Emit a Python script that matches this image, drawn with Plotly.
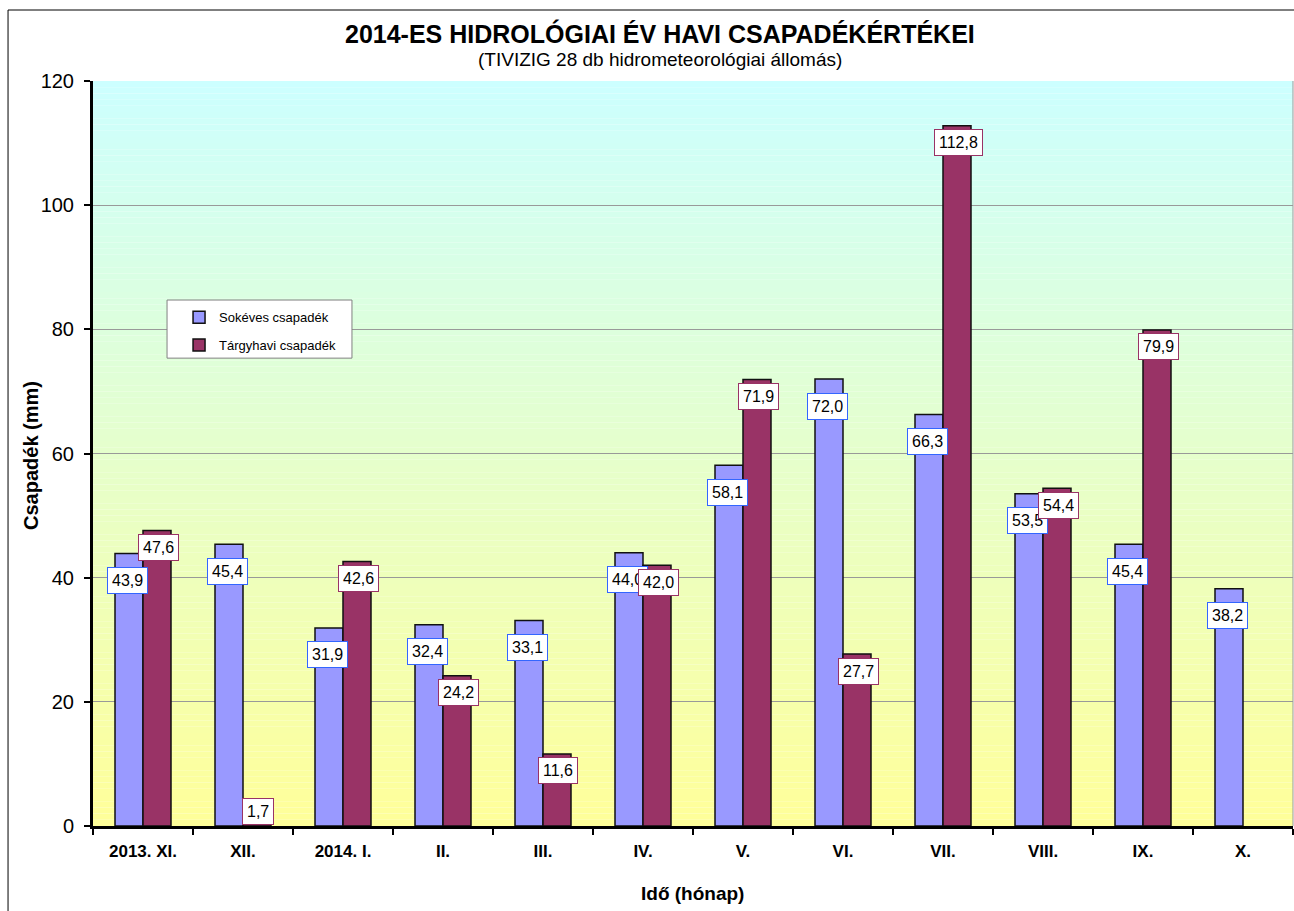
import plotly.graph_objects as go

months = ["2013. XI.", "XII.", "2014. I.", "II.", "III.", "IV.", "V.", "VI.", "VII.", "VIII.", "IX.", "X."]
sokeves = [43.9, 45.4, 31.9, 32.4, 33.1, 44.0, 58.1, 72.0, 66.3, 53.5, 45.4, 38.2]
targyhavi = [47.6, 1.7, 42.6, 24.2, 11.6, 42.0, 71.9, 27.7, 112.8, 54.4, 79.9, None]
y_ticks = [0, 20, 40, 60, 80, 100, 120]

BLUE = "#9999FF"
MAROON = "#993366"
FONT = "Liberation Sans, Arial, sans-serif"

fig = go.Figure()
fig.add_trace(go.Bar(name="Sokéves csapadék", x=months, y=sokeves, legendgroup="a",
                     marker=dict(color=BLUE, line=dict(color="#111111", width=1.5))))
fig.add_trace(go.Bar(name="Tárgyhavi csapadék", x=months, y=targyhavi, legendgroup="b",
                     marker=dict(color=MAROON, line=dict(color="#111111", width=1.5))))

def fmt(v):
    return f"{v:.1f}".replace(".", ",")

annotations = []
for m, v in zip(months, sokeves):
    if v is None:
        continue
    annotations.append(dict(x=m, y=v, xref="x", yref="y", text=fmt(v), showarrow=False,
                            xshift=-16, yshift=-27, yanchor="middle", xanchor="center",
                            font=dict(family=FONT, size=16, color="black"),
                            bgcolor="white", bordercolor="#3366FF", borderwidth=1, borderpad=4))
for m, v in zip(months, targyhavi):
    if v is None:
        continue
    annotations.append(dict(x=m, y=max(v, 5), xref="x", yref="y", text=fmt(v), showarrow=False,
                            xshift=15, yshift=-17, yanchor="middle", xanchor="center",
                            font=dict(family=FONT, size=16, color="black"),
                            bgcolor="white", bordercolor=MAROON, borderwidth=1, borderpad=4))

annotations += [
    dict(x=0.4725, y=1.0644, xref="paper", yref="paper", showarrow=False, xanchor="center",
         text="<b>2014-ES HIDROLÓGIAI ÉV HAVI CSAPADÉKÉRTÉKEI</b>",
         font=dict(family=FONT, size=25, color="black"), yanchor="middle"),
    dict(x=0.4725, y=1.0295, xref="paper", yref="paper", showarrow=False, xanchor="center",
         text="(TIVIZIG 28 db hidrometeorológiai állomás)",
         font=dict(family=FONT, size=19, color="black"), yanchor="middle"),
    dict(x=-0.0517, y=0.498, xref="paper", yref="paper", showarrow=False, textangle=-90,
         xanchor="center", yanchor="middle",
         text="<b>Csapadék (mm)</b>", font=dict(family=FONT, size=20, color="black")),
    dict(x=0.4992, y=-0.09, xref="paper", yref="paper", showarrow=False, xanchor="center",
         text="<b>Idő (hónap)</b>", font=dict(family=FONT, size=19, color="black"), yanchor="middle"),
]

# gradient background bands (cyan at top to yellow at bottom)
shapes = []
top = (0xCC, 0xFF, 0xFF)
bot = (0xFF, 0xFF, 0x99)
N = 120
for i in range(N):
    t = (i + 0.5) / N
    c = tuple(round(bot[k] + (top[k] - bot[k]) * t) for k in range(3))
    shapes.append(dict(type="rect", xref="paper", yref="y", x0=0, x1=1,
                       y0=120 * i / N, y1=120 * (i + 1) / N, layer="below",
                       fillcolor="rgb(%d,%d,%d)" % c, line=dict(width=0)))
# outer chart border (left and top edges visible)
shapes.append(dict(type="line", xref="paper", yref="paper", x0=-0.0708, x1=-0.0708,
                   y0=-0.3, y1=1.0953, line=dict(color="black", width=1), layer="above"))
shapes.append(dict(type="line", xref="paper", yref="paper", x0=-0.0708, x1=1.2,
                   y0=1.0953, y1=1.0953, line=dict(color="black", width=1), layer="above"))
# right border of plot area
shapes.append(dict(type="line", xref="paper", yref="paper", x0=1, x1=1, y0=0, y1=1,
                   line=dict(color="#999999", width=1), layer="below"))
# legend box
shapes.append(dict(type="rect", xref="paper", yref="paper", x0=0.0617, x1=0.2158,
                   y0=0.628, y1=0.706, fillcolor="white", line=dict(color="#808080", width=1),
                   layer="above"))

fig.update_layout(
    width=1294, height=911,
    margin=dict(l=93, r=1, t=81, b=85),
    paper_bgcolor="white", plot_bgcolor="rgba(0,0,0,0)",
    barmode="group", bargap=0.44, bargroupgap=0,
    font=dict(family=FONT, size=16, color="black"),
    showlegend=True,
    legend=dict(x=0.0717, y=0.703, xanchor="left", yanchor="top",
                bgcolor="rgba(0,0,0,0)", borderwidth=0,
                font=dict(family=FONT, size=13, color="black"),
                itemwidth=30, tracegroupgap=8),
    annotations=annotations, shapes=shapes,
)
fig.update_xaxes(type="category", showline=True, linecolor="black", linewidth=3,
                 ticks="outside", tickson="boundaries", ticklen=6, tickwidth=2, tickcolor="black",
                 ticklabelstandoff=8,
                 tickfont=dict(family=FONT, size=17, color="black", weight="bold"),
                 showgrid=False, zeroline=False)
fig.update_yaxes(range=[0, 120], tickvals=y_ticks, showline=True, linecolor="black", linewidth=3,
                 ticks="outside", ticklen=6, tickwidth=2, tickcolor="black",
                 ticklabelstandoff=6,
                 tickfont=dict(family=FONT, size=20, color="black"),
                 showgrid=True, gridcolor="#999999", gridwidth=1, zeroline=False)

fig.write_html("out.html", config={"displayModeBar": False},
               post_script="document.body.style.margin='0';document.body.style.overflow='hidden';")
